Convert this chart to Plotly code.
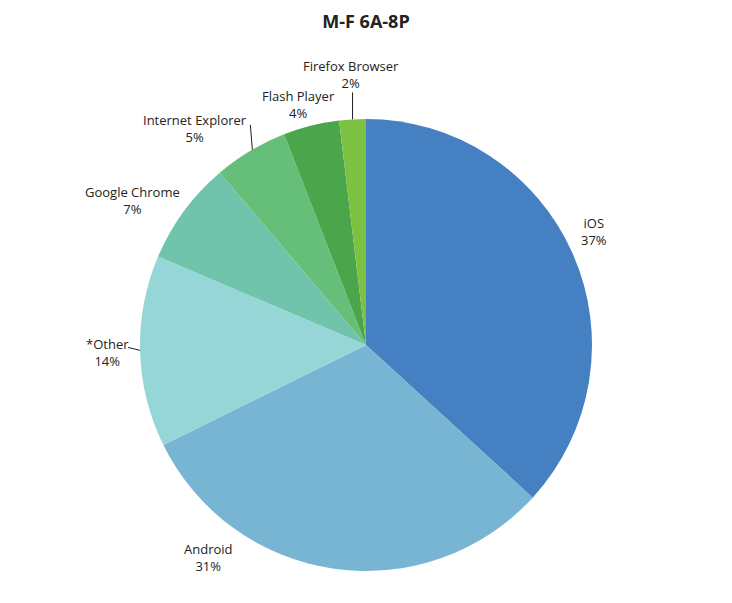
import math
import plotly.graph_objects as go

# data (shares in %)
labels = ["iOS", "Android", "*Other", "Google Chrome", "Internet Explorer",
          "Flash Player", "Firefox Browser"]
values = [36.8, 30.9, 13.7, 7.4, 5.3, 4.0, 1.9]
colors = ["#4480C2", "#77B5D3", "#97D6D7", "#6FC4AB", "#65BF78",
          "#4BA54A", "#7DC143"]

# label placement relative to the slice edge (pixels), and leader lines
label_shift = [(21, 22), (-126, 11), (-33, -1), (-52, 11), (-55, 22),
               (-13, 21), (-1.5, 45)]
leaders = {
    "Firefox Browser": [(0, 27), (0, 0)],
    "Internet Explorer": [(0, 26), (2, 1)],
    "*Other": [(-12, 4), (0, 1)],
}

W, H = 732, 603
OFF = 8  # page body margin shifts the figure by 8px
M_L, M_R = 0, 2 * OFF
M_T, M_B = 119 - OFF, 32 + OFF
PW = W - M_L - M_R
PH = H - M_T - M_B
R = PH / 2

fig = go.Figure()
fig.add_trace(go.Pie(labels=labels, values=values, sort=False,
                     direction="clockwise", rotation=0,
                     marker=dict(colors=colors, line=dict(width=0)),
                     textinfo="none", hoverinfo="label+percent",
                     showlegend=False, domain=dict(x=[0, 1], y=[0, 1])))

total = sum(values)
cum = 0
annotations = []
shapes = []
for lab, v, (dx, dy) in zip(labels, values, label_shift):
    mid = (cum + v / 2) / total * 2 * math.pi
    cum += v
    # point on the pie edge, in paper coords
    px = 0.5 + R * math.sin(mid) / PW
    py = 0.5 + R * math.cos(mid) / PH
    pct = round(v / total * 100)
    annotations.append(dict(x=px, y=py, xref="paper", yref="paper",
                            text=f"{lab}<br>{pct}%", showarrow=False,
                            xanchor="center", yanchor="middle",
                            xshift=dx, yshift=dy, align="center",
                            font=dict(family="Open Sans", size=13,
                                      color="#222222")))
    if lab in leaders:
        (x0, y0), (x1, y1) = leaders[lab]
        shapes.append(dict(type="line", xref="paper", yref="paper",
                           x0=px + x0 / PW, y0=py + y0 / PH,
                           x1=px + x1 / PW, y1=py + y1 / PH,
                           line=dict(color="#222222", width=1)))

fig.update_layout(
    width=W, height=H,
    margin=dict(l=M_L, r=M_R, t=M_T, b=M_B),
    paper_bgcolor="white", plot_bgcolor="white",
    title=dict(text="<b>M-F 6A-8P</b>", x=0.5, xref="paper",
               xanchor="center", y=1 - (22 - OFF) / H, yanchor="middle",
               font=dict(family="Open Sans", size=18, color="#222222")),
    annotations=annotations, shapes=shapes,
)

fig.write_html("out.html")
